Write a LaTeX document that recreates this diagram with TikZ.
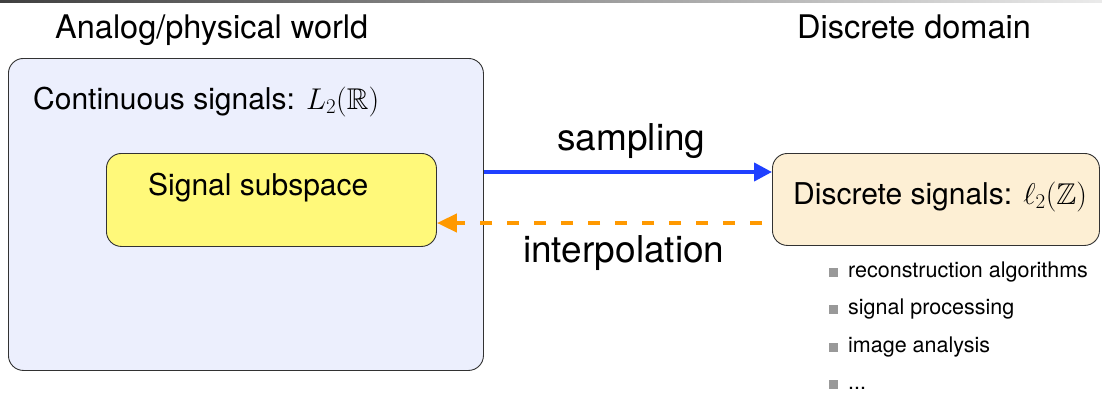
\RequirePackage{fix-cm}
\documentclass[tikz,border=0pt]{standalone}
\usepackage{amssymb}
\usepackage{fontspec}
\setmainfont{TeX Gyre Heros}
\usetikzlibrary{arrows.meta}
\definecolor{bigfill}{RGB}{236,239,253}
\definecolor{subfill}{RGB}{255,249,122}
\definecolor{discfill}{RGB}{253,239,212}
\definecolor{sampblue}{RGB}{31,64,255}
\definecolor{interporange}{RGB}{255,153,0}
\definecolor{bulletgray}{RGB}{153,153,153}
\definecolor{edgegray}{RGB}{50,50,50}
\newcommand{\fs}[1]{\fontsize{#1}{#1}\selectfont}
\newcommand{\bul}{\textcolor{bulletgray}{\rule{9pt}{9pt}}\hspace{10pt}}
\tikzset{
  box/.style={draw=edgegray, line width=0.9pt, rounded corners=15pt, inner sep=0pt, anchor=north west},
  title/.style={anchor=base west, inner sep=0pt, font=\fs{32.5}},
  label/.style={anchor=base west, inner sep=0pt, font=\fs{30}},
  arrlabel/.style={anchor=base west, inner sep=0pt, font=\fs{37}},
  item/.style={anchor=base west, inner sep=0pt, font=\fs{21.5}},
  samparrow/.style={draw=sampblue, line width=4pt, -{Triangle[length=18pt,width=18pt]}},
  interparrow/.style={draw=interporange, line width=4pt, dash pattern=on 12pt off 15pt, dash phase=17pt, -{Triangle[length=20pt,width=18pt]}}
}
\begin{document}
\begin{tikzpicture}[x=1pt,y=-1pt]
\useasboundingbox (0,0) rectangle (1102,394);
% top rule
\shade[left color=black!75, right color=black!8] (0,0) rectangle (1102,2);
% titles
\node[title] (ttl) at (55,38) {Analog/physical world};
\node[title] (ttr) at (797,38) {Discrete domain};
% boxes
\node[box, fill=bigfill, minimum width=475pt, minimum height=312pt] (big) at (8,58) {};
\node[box, fill=subfill, minimum width=330pt, minimum height=93pt] (sub) at (106,153) {};
\node[box, fill=discfill, minimum width=327pt, minimum height=92pt] (disc) at (772,153) {};
% box texts
\node[label] (cont) at (33,109) {Continuous signals: $L_2(\mathbb{R})$};
\node[label] (subt) at (148,195) {Signal subspace};
\node[label] (disct) at (793,204) {Discrete signals: $\ell_2(\mathbb{Z})$};
% arrows
\coordinate (ys) at (0,172);
\coordinate (yi) at (0,223);
\draw[samparrow] (ys -| big.east) -- (ys -| disc.west);
\draw[interparrow] (yi -| disc.west) -- (yi -| sub.east);
\node[arrlabel] (samp) at (557,150) {sampling};
\node[arrlabel] (interp) at (523,262) {interpolation};
% bullet list
\node[item] (i1) at (829,277) {\bul reconstruction algorithms};
\node[item] (i2) at (829,314) {\bul signal processing};
\node[item] (i3) at (829,352) {\bul image analysis};
\node[item] (i4) at (829,389) {\bul ...};
\end{tikzpicture}
\end{document}
